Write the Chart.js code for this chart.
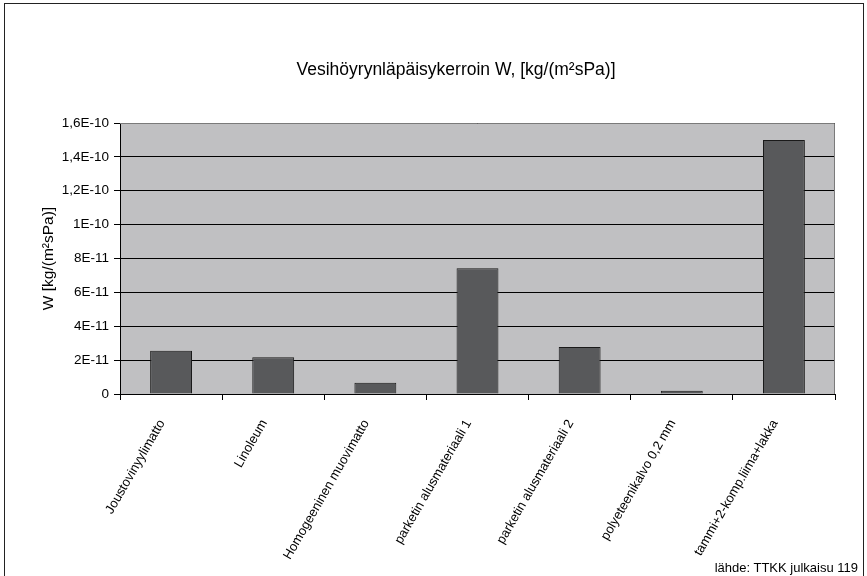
<!DOCTYPE html>
<html>
<head>
<meta charset="utf-8">
<script src="https://cdn.jsdelivr.net/npm/chart.js@4/dist/chart.umd.min.js"></script>
<style>
  html, body { margin: 0; padding: 0; background: #fff; }
  #wrap { position: relative; width: 867px; height: 576px; overflow: hidden; }
  #frame { position: absolute; left: 4px; top: 3px; width: 860px; height: 600px; border: 1px solid #222; box-sizing: border-box; }
  #c { position: absolute; left: 0; top: 0; }
  #source { position: absolute; right: 9px; top: 560px; font: 13px 'Liberation Sans', Arial, sans-serif; color: #000; white-space: nowrap; }
</style>
</head>
<body>
<div id="wrap">
  <div id="frame"></div>
  <canvas id="c" width="867" height="576"></canvas>
  <div id="source">lähde: TTKK julkaisu 119</div>
</div>
<script>
// Materials and their water vapour permeance W [kg/(m²sPa)]
const materials = [
  'Joustovinyylimatto',
  'Linoleum',
  'Homogeeninen muovimatto',
  'parketin alusmateriaali 1',
  'parketin alusmateriaali 2',
  'polyeteenikalvo 0,2 mm',
  'tammi+2-komp.liima+lakka'
];
const permeance = [2.55e-11, 2.17e-11, 0.67e-11, 7.43e-11, 2.77e-11, 0.19e-11, 1.5e-10];

// Value axis ticks and how they are written
const yTickValues = [0, 2e-11, 4e-11, 6e-11, 8e-11, 1e-10, 1.2e-10, 1.4e-10, 1.6e-10];
const yTickLabels = ['0', '2E-11', '4E-11', '6E-11', '8E-11', '1E-10', '1,2E-10', '1,4E-10', '1,6E-10'];

const chartTitle = 'Vesihöyrynläpäisykerroin W, [kg/(m²sPa)]';
const yAxisTitle = 'W [kg/(m²sPa)]';

const FONT = "'Liberation Sans', Arial, sans-serif";

// Grey plot background, thin grey top/right border and the heading
const plotFrame = {
  id: 'plotFrame',
  beforeDraw(chart) {
    const { ctx, chartArea: a } = chart;
    ctx.save();
    ctx.fillStyle = '#c0c0c2';
    ctx.fillRect(a.left, a.top, a.right - a.left, a.bottom - a.top);
    ctx.restore();
  },
  afterDraw(chart) {
    const { ctx, chartArea: a } = chart;
    ctx.save();
    ctx.strokeStyle = '#7a7a7a';
    ctx.lineWidth = 1;
    ctx.beginPath();
    ctx.moveTo(a.left, a.top + 0.5);
    ctx.lineTo(a.right - 0.5, a.top + 0.5);
    ctx.lineTo(a.right - 0.5, a.bottom);
    ctx.stroke();

    ctx.fillStyle = '#000';
    ctx.font = '17.5px ' + FONT;
    ctx.textAlign = 'center';
    ctx.textBaseline = 'middle';
    ctx.fillText(chartTitle, 456, 70);
    ctx.restore();
  }
};

new Chart(document.getElementById('c'), {
  type: 'bar',
  data: {
    labels: materials,
    datasets: [{
      data: permeance,
      backgroundColor: '#58595b',
      borderColor: '#1a1a1a',
      borderWidth: 1,
      borderSkipped: 'bottom',
      barPercentage: 0.41,
      categoryPercentage: 1.0
    }]
  },
  options: {
    responsive: false,
    animation: false,
    devicePixelRatio: 1,
    layout: { padding: { left: 0, right: 32, top: 123, bottom: 0 } },
    plugins: {
      legend: { display: false },
      tooltip: { enabled: false },
      title: { display: false }
    },
    scales: {
      x: {
        offset: true,
        grid: {
          display: true,
          offset: true,
          drawOnChartArea: false,
          drawTicks: true,
          tickLength: 6,
          color: '#000'
        },
        border: { display: true, color: '#000', width: 1 },
        ticks: {
          autoSkip: false,
          minRotation: 60,
          maxRotation: 60,
          padding: 17,
          labelOffset: -9,
          color: '#000',
          font: { family: FONT, size: 13 }
        },
        afterFit(scale) { scale.height = 182; }
      },
      y: {
        min: 0,
        max: 1.6e-10,
        afterBuildTicks(scale) {
          scale.ticks = yTickValues.map(v => ({ value: v }));
        },
        grid: {
          display: true,
          color: '#000',
          lineWidth: 1,
          drawTicks: true,
          tickLength: 6
        },
        border: { display: true, color: '#000', width: 1 },
        ticks: {
          padding: 5,
          color: '#000',
          font: { family: FONT, size: 13.5 },
          callback(value, index) { return yTickLabels[index]; }
        },
        title: {
          display: true,
          text: yAxisTitle,
          color: '#000',
          font: { family: FONT, size: 15.5, weight: 'normal' },
          padding: { top: 39, bottom: 0 }
        },
        afterFit(scale) { scale.width = 120; }
      }
    }
  },
  plugins: [plotFrame]
});
</script>
</body>
</html>
